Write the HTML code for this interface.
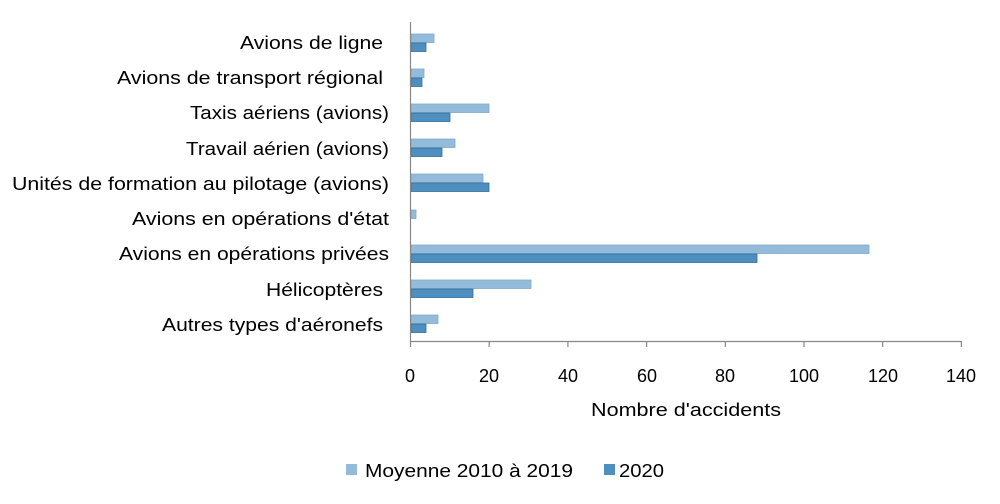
<!DOCTYPE html>
<html><head><meta charset="utf-8"><style>
body{margin:0;background:#fff;}
svg text{font-family:"Liberation Sans",sans-serif;fill:#000;}
</style></head><body>
<svg width="1000" height="499" viewBox="0 0 1000 499" xmlns="http://www.w3.org/2000/svg">
<g fill="#94bbd9" stroke="#7fa9cc" stroke-width="0.8">
<rect x="411" y="34" width="23" height="8.5"/>
<rect x="411" y="69" width="13" height="8.5"/>
<rect x="411" y="104" width="78" height="8.5"/>
<rect x="411" y="139" width="44" height="8.5"/>
<rect x="411" y="174" width="72" height="8.5"/>
<rect x="411" y="210" width="5" height="8.5"/>
<rect x="411" y="245" width="458" height="8.5"/>
<rect x="411" y="280" width="120" height="8.5"/>
<rect x="411" y="315" width="27" height="8.5"/>
</g>
<g fill="#4f8fbf" stroke="#2f6f9f" stroke-width="0.8">
<rect x="411" y="43" width="15" height="8.5"/>
<rect x="411" y="78" width="11" height="8.5"/>
<rect x="411" y="113" width="39" height="8.5"/>
<rect x="411" y="148" width="31" height="8.5"/>
<rect x="411" y="183" width="78" height="8.5"/>
<rect x="411" y="254" width="346" height="8.5"/>
<rect x="411" y="289" width="62" height="8.5"/>
<rect x="411" y="324" width="15" height="8.5"/>
</g>
<g stroke="#888" stroke-width="1.2">
<line x1="410.5" y1="22" x2="410.5" y2="342"/>
<line x1="410" y1="341.5" x2="962" y2="341.5"/>
<line x1="410.5" y1="341" x2="410.5" y2="347"/>
<line x1="489.2" y1="341" x2="489.2" y2="347"/>
<line x1="567.9" y1="341" x2="567.9" y2="347"/>
<line x1="646.6" y1="341" x2="646.6" y2="347"/>
<line x1="725.3" y1="341" x2="725.3" y2="347"/>
<line x1="804" y1="341" x2="804" y2="347"/>
<line x1="882.7" y1="341" x2="882.7" y2="347"/>
<line x1="961.4" y1="341" x2="961.4" y2="347"/>
</g>
<g font-size="18" text-anchor="middle">
<text x="410" y="382">0</text><text x="489" y="382">20</text><text x="568" y="382">40</text>
<text x="647" y="382">60</text><text x="725" y="382">80</text><text x="804" y="382">100</text>
<text x="883" y="382">120</text><text x="961" y="382">140</text>
</g>
<g font-size="18" lengthAdjust="spacingAndGlyphs">
<text x="591" y="416" textLength="190" lengthAdjust="spacingAndGlyphs">Nombre d'accidents</text>
<text x="240" y="49" textLength="143" lengthAdjust="spacingAndGlyphs">Avions de ligne</text>
<text x="117" y="84" textLength="266" lengthAdjust="spacingAndGlyphs">Avions de transport régional</text>
<text x="190" y="119" textLength="199" lengthAdjust="spacingAndGlyphs">Taxis aériens (avions)</text>
<text x="186" y="155" textLength="203" lengthAdjust="spacingAndGlyphs">Travail aérien (avions)</text>
<text x="12" y="190" textLength="377" lengthAdjust="spacingAndGlyphs">Unités de formation au pilotage (avions)</text>
<text x="132" y="225" textLength="257" lengthAdjust="spacingAndGlyphs">Avions en opérations d'état</text>
<text x="119" y="260" textLength="270" lengthAdjust="spacingAndGlyphs">Avions en opérations privées</text>
<text x="266" y="296" textLength="117" lengthAdjust="spacingAndGlyphs">Hélicoptères</text>
<text x="162" y="331" textLength="221" lengthAdjust="spacingAndGlyphs">Autres types d'aéronefs</text>
<text x="365" y="477" textLength="208" lengthAdjust="spacingAndGlyphs">Moyenne 2010 à 2019</text>
<text x="619" y="477" textLength="45" lengthAdjust="spacingAndGlyphs">2020</text>
</g>
<rect x="346" y="464" width="11" height="11" fill="#94bbd9"/>
<rect x="604" y="464" width="11" height="11" fill="#4f8fbf"/>
</svg>
</body></html>
